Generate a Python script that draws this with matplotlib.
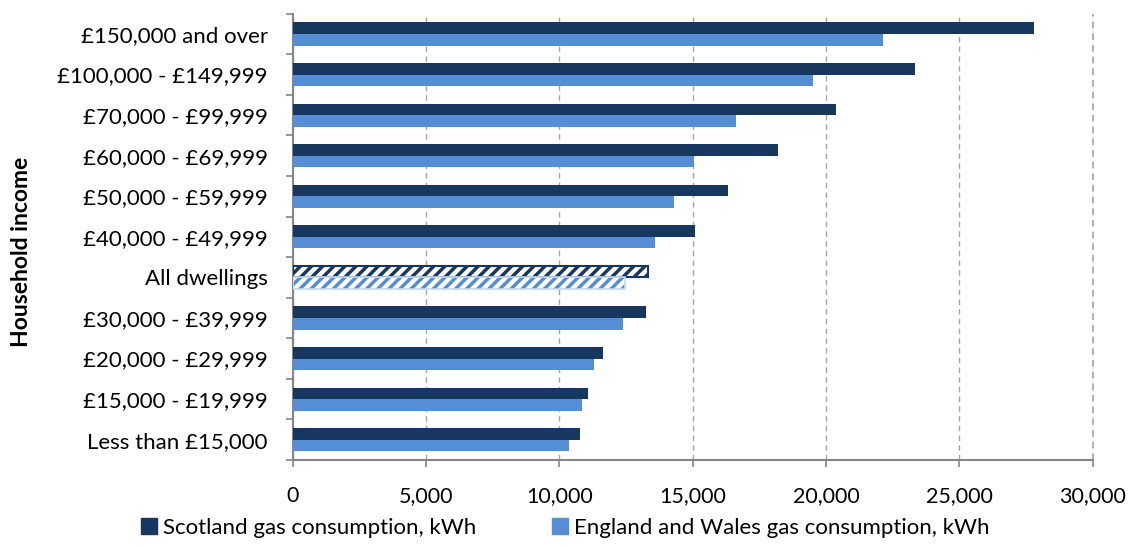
import numpy as np
import matplotlib.pyplot as plt
from matplotlib.patches import Patch

plt.rcParams['font.family'] = ['Lato', 'DejaVu Sans']
plt.rcParams['hatch.linewidth'] = 2.5

# categories, bottom to top
categories = ['Less than £15,000', '£15,000 - £19,999', '£20,000 - £29,999',
              '£30,000 - £39,999', 'All dwellings', '£40,000 - £49,999',
              '£50,000 - £59,999', '£60,000 - £69,999', '£70,000 - £99,999',
              '£100,000 - £149,999', '£150,000 and over']
scotland = [10760, 11075, 11640, 13240, 13310, 15090, 16325, 18190, 20375, 23340, 27810]
england_wales = [10375, 10840, 11300, 12390, 12440, 13575, 14310, 15060, 16610, 19500, 22140]
xticks = [0, 5000, 10000, 15000, 20000, 25000, 30000]

navy = '#17375E'
blue = '#558ED5'

fig = plt.figure(figsize=(11.31, 5.47), dpi=100)
ax = fig.add_axes([0.259, 0.159, 0.707, 0.816])

y = np.arange(len(categories))
h = 0.285
for i, cat in enumerate(categories):
    if cat == 'All dwellings':
        ax.barh(y[i] + h / 2, scotland[i], height=h, color='white', edgecolor=navy,
                hatch='///', linewidth=1.5, zorder=3)
        ax.barh(y[i] - h / 2, england_wales[i], height=h, color='white', edgecolor=blue,
                hatch='///', linewidth=0, zorder=3)
        ax.barh(y[i] - h / 2, england_wales[i], height=h, fill=False, edgecolor='#C6D9F1',
                linewidth=1.2, zorder=4)
    else:
        ax.barh(y[i] + h / 2, scotland[i], height=h, color=navy, zorder=3)
        ax.barh(y[i] - h / 2, england_wales[i], height=h, color=blue, zorder=3)

ax.set_xlim(0, 30000)
ax.set_ylim(-0.5, len(categories) - 0.5)
ax.set_xticks(xticks)
ax.set_xticklabels([f'{v:,}' for v in xticks])
ax.set_yticks(y)
ax.set_yticklabels(categories)
ax.set_yticks(np.arange(-0.5, len(categories)), minor=True)
ax.tick_params(axis='y', which='major', length=0, pad=18, labelsize=16)
ax.tick_params(axis='y', which='minor', length=5, color='#868686', width=1.2)
ax.tick_params(axis='x', length=5, color='#868686', width=1.2, pad=14, labelsize=15.5)

ax.grid(axis='x', color='#A6A6A6', linestyle=(0, (4, 3)), linewidth=1, zorder=0)
# last gridline sits on the axis edge, draw it unclipped
ax.axvline(xticks[-1], color='#A6A6A6', linestyle=(0, (4, 3)), linewidth=1.2,
           clip_on=False, zorder=0)
for s in ['top', 'right']:
    ax.spines[s].set_visible(False)
for s in ['left', 'bottom']:
    ax.spines[s].set_color('#868686')
    ax.spines[s].set_linewidth(1.5)

fig.text(22 / 1131, 0.54, 'Household income', rotation=90, fontsize=16.5,
         fontweight='bold', ha='center', va='center')

handles = [Patch(color=navy, label='Scotland gas consumption, kWh'),
           Patch(color=blue, label='England and Wales gas consumption, kWh')]
fig.legend(handles=handles, loc='lower center', bbox_to_anchor=(0.5, -0.02), ncol=2,
           frameon=False, fontsize=16, handlelength=0.7, handleheight=0.7,
           handletextpad=0.3, columnspacing=3.4)

fig.savefig('out.png', dpi=100)
